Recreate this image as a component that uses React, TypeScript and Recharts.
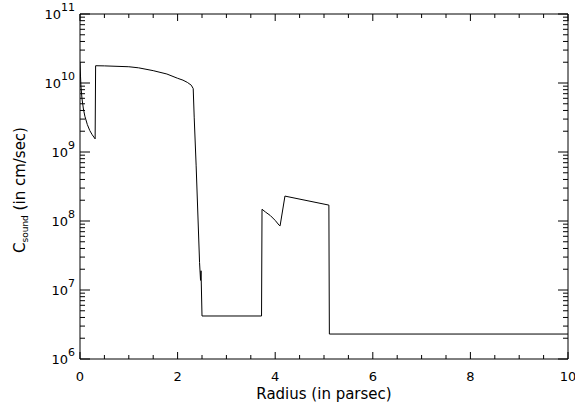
import { Line, LineChart, ReferenceLine, XAxis, YAxis } from "recharts";

// radius in parsec
const radius = [
  0, 0.01, 0.02, 0.04, 0.07, 0.1, 0.15, 0.2, 0.25, 0.31,
  0.32, 0.5, 1.0, 1.2, 1.5, 1.78, 2.0, 2.11, 2.2, 2.28, 2.32,
  2.34, 2.38, 2.42, 2.45, 2.47, 2.48, 2.5,
  3.72, 3.73, 3.8, 3.9, 4.0, 4.08, 4.1, 4.2, 4.22, 5.1, 5.11, 10,
];

// sound speed in cm/sec
const soundSpeed = [
  2.0e10, 1.26e10, 8.9e9, 6.0e9, 4.2e9, 3.3e9, 2.5e9, 2.05e9, 1.78e9, 1.55e9,
  1.78e10, 1.77e10, 1.72e10, 1.66e10, 1.51e10, 1.35e10, 1.17e10, 1.1e10, 1.02e10, 9.3e9, 8.3e9,
  3.2e9, 6.3e8, 1.0e8, 2.5e7, 1.38e7, 1.9e7, 4.2e6,
  4.2e6, 1.48e8, 1.35e8, 1.2e8, 1.02e8, 8.7e7, 8.5e7, 2.3e8, 2.28e8, 1.7e8, 2.3e6, 2.3e6,
];

const xTicks = [0, 0.5, 1, 1.5, 2, 2.5, 3, 3.5, 4, 4.5, 5, 5.5, 6, 6.5, 7, 7.5, 8, 8.5, 9, 9.5, 10];
const xMajor = [0, 2, 4, 6, 8, 10];
const decades = [6, 7, 8, 9, 10];
const yTicks = [...decades.flatMap((d) => [1, 2, 3, 4, 5, 6, 7, 8, 9].map((m) => m * Math.pow(10, d))), 1e11];

const data = radius.map((r, i) => ({ r, c: soundSpeed[i] }));

const PLOT_W = 488;
const PLOT_H = 345;

function XTick(props: any) {
  const { x, y, payload } = props;
  const v = payload.value;
  const major = xMajor.some((m) => Math.abs(m - v) < 1e-6);
  const len = major ? 7 : 4;
  return (
    <g>
      <line x1={x} x2={x} y1={y} y2={y - len} stroke="black" strokeWidth={1} />
      <line x1={x} x2={x} y1={y - PLOT_H} y2={y - PLOT_H + len} stroke="black" strokeWidth={1} />
      {major && <text x={x} y={y + 22} textAnchor="middle" fontSize={13}>{String(v)}</text>}
    </g>
  );
}

function YTick(props: any) {
  const { x, y, payload } = props;
  const lg = Math.log10(payload.value);
  const major = Math.abs(lg - Math.round(lg)) < 1e-6;
  const len = major ? 10 : 5;
  const exp = String(Math.round(lg));
  return (
    <g>
      <line x1={x} x2={x + len} y1={y} y2={y} stroke="black" strokeWidth={1} />
      <line x1={x + PLOT_W} x2={x + PLOT_W - len} y1={y} y2={y} stroke="black" strokeWidth={1} />
      {major && <text x={x - 5} y={y - 3} textAnchor="end" fontSize={11}>{exp}</text>}
      {major && <text x={x - 5 - 7 * exp.length} y={y + 5} textAnchor="end" fontSize={13}>10</text>}
    </g>
  );
}

const XTitle = () => (
  <text x={324} y={399} textAnchor="middle" fontSize={15}>
    Radius (in parsec)
  </text>
);

const YTitle = () => (
  <text transform="translate(25,190) rotate(-90)" textAnchor="middle" fontSize={15}>
    <tspan>C</tspan>
    <tspan fontSize={9} dy={3}>sound</tspan>
    <tspan dy={-3}> (in cm/sec)</tspan>
  </text>
);

export default function App() {
  return (
    <div
      style={{
        position: "absolute",
        left: 0,
        top: 0,
        width: 575,
        height: 408,
        background: "#fff",
        fontFamily: "DejaVu Sans",
      }}
    >
      <LineChart width={575} height={408} data={data} margin={{ top: 14, right: 7, bottom: 0, left: 0 }}>
        <XAxis
          dataKey="r"
          type="number"
          domain={[0, 10]}
          ticks={xTicks}
          interval={0}
          height={49}
          allowDataOverflow
          tickSize={0}
          tickMargin={0}
          tickLine={false}
          axisLine={{ stroke: "#000" }}
          tick={(p: any) => <XTick {...p} />}
          label={{ content: () => <XTitle /> }}
        />
        <YAxis
          dataKey="c"
          scale="log"
          type="number"
          domain={[1e6, 1e11]}
          ticks={yTicks}
          interval={0}
          allowDataOverflow
          width={80}
          tickSize={0}
          tickMargin={0}
          tickLine={false}
          axisLine={{ stroke: "#000" }}
          tick={(p: any) => <YTick {...p} />}
          label={{ content: () => <YTitle /> }}
        />
        <ReferenceLine y={1e11} stroke="#000" ifOverflow="extendDomain" />
        <ReferenceLine x={10} stroke="#000" ifOverflow="extendDomain" />
        <Line type="linear" dataKey="c" stroke="#000" dot={false} isAnimationActive={false} />
      </LineChart>
    </div>
  );
}
